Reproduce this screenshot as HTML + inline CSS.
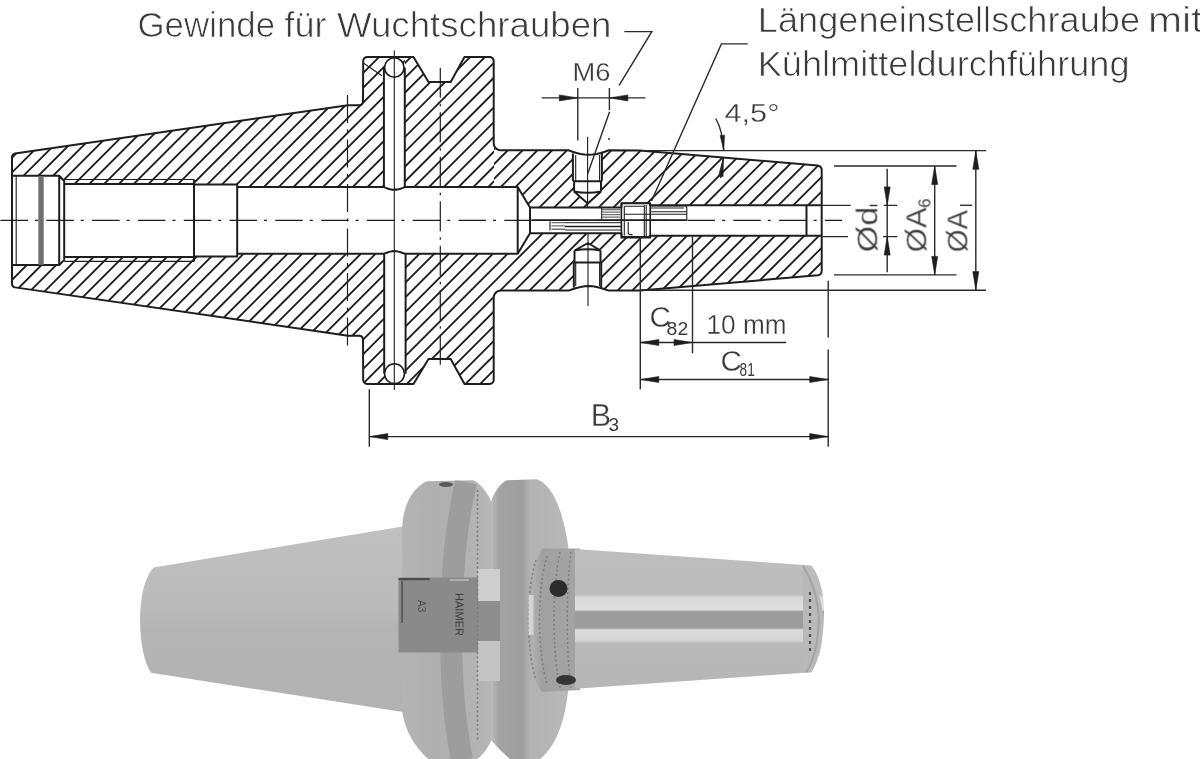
<!DOCTYPE html>
<html><head><meta charset="utf-8"><style>
html,body{margin:0;padding:0;background:#fff;width:1200px;height:759px;overflow:hidden}
svg{display:block}
text{will-change:transform}
</style></head><body>
<svg width="1200" height="759" viewBox="0 0 1200 759">
<defs>
<clipPath id="body"><path d="M12,220.45 L12,157 L12,157 L12.22,155.77 L12.86,154.7 L13.83,153.92 L15.01,153.53 L348,105.2 L359.5,105.2 L359.5,105.2 L361.25,104.73 L362.53,103.45 L363,101.7 L363.2,61 L363.2,61 L363.5,59.47 L364.37,58.17 L365.67,57.3 L367.2,57 L413.5,56.9 L428.5,82 L450.7,82 L464.5,56.9 L489.7,56.9 L489.7,57 L491.23,57.3 L492.53,58.17 L493.4,59.47 L493.7,61 L493.7,143.3 L493.7,143.3 L494.04,145.46 L495.04,147.41 L496.59,148.96 L498.54,149.96 L500.7,150.3 L568.5,150.3 L572.53,151.69 L576.56,152.95 L580.59,153.94 L584.62,154.58 L588.65,154.8 L592.68,154.58 L596.71,153.94 L600.74,152.95 L604.77,151.69 L608.8,150.3 L640,150.4 L817.5,165.6 L817.5,165.6 L819.11,165.92 L820.47,166.83 L821.38,168.19 L821.7,169.8 L821.7,220.45 L821.7,220.45 L821.7,271.1 L821.38,272.71 L820.47,274.07 L819.11,274.98 L817.5,275.3 L817.5,275.3 L640,290.5 L608.8,290.6 L604.77,289.21 L600.74,287.95 L596.71,286.96 L592.68,286.32 L588.65,286.1 L584.62,286.32 L580.59,286.96 L576.56,287.95 L572.53,289.21 L568.5,290.6 L500.7,290.6 L498.54,290.94 L496.59,291.94 L495.04,293.49 L494.04,295.44 L493.7,297.6 L493.7,297.6 L493.7,379.9 L493.4,381.43 L492.53,382.73 L491.23,383.6 L489.7,383.9 L489.7,384 L464.5,384 L450.7,358.9 L428.5,358.9 L413.5,384 L367.2,383.9 L365.67,383.6 L364.37,382.73 L363.5,381.43 L363.2,379.9 L363.2,379.9 L363,339.2 L362.53,337.45 L361.25,336.17 L359.5,335.7 L359.5,335.7 L348,335.7 L15.01,287.37 L13.83,286.98 L12.86,286.2 L12.22,285.13 L12,283.9 L12,283.9 L12,220.45 Z"/></clipPath>
</defs>
<clipPath id="cUp"><path clip-rule="evenodd" d="M0,0 H1200 V220.45 H0 Z M404.8,40 H494 V187 H404.8 Z"/></clipPath>
<clipPath id="cFl"><rect x="404.8" y="40" width="89.2" height="147"/></clipPath>
<clipPath id="cLo"><rect x="0" y="220.45" width="1200" height="200"/></clipPath>
<g clip-path="url(#body)" stroke="#1e1e1e" stroke-width="1.85" fill="none"><g clip-path="url(#cUp)"><path d="M-18.3,40 L-203.3,225 M-3.5,40 L-188.5,225 M11.3,40 L-173.7,225 M26.1,40 L-158.9,225 M40.9,40 L-144.1,225 M55.7,40 L-129.3,225 M70.5,40 L-114.5,225 M85.3,40 L-99.7,225 M100.1,40 L-84.9,225 M114.9,40 L-70.1,225 M129.7,40 L-55.3,225 M144.5,40 L-40.5,225 M159.3,40 L-25.7,225 M174.1,40 L-10.9,225 M188.9,40 L3.9,225 M203.7,40 L18.7,225 M218.5,40 L33.5,225 M233.3,40 L48.3,225 M248.1,40 L63.1,225 M262.9,40 L77.9,225 M277.7,40 L92.7,225 M292.5,40 L107.5,225 M307.3,40 L122.3,225 M322.1,40 L137.1,225 M336.9,40 L151.9,225 M351.7,40 L166.7,225 M366.5,40 L181.5,225 M381.3,40 L196.3,225 M396.1,40 L211.1,225 M410.9,40 L225.9,225 M425.7,40 L240.7,225 M440.5,40 L255.5,225 M455.3,40 L270.3,225 M470.1,40 L285.1,225 M484.9,40 L299.9,225 M499.7,40 L314.7,225 M514.5,40 L329.5,225 M529.3,40 L344.3,225 M544.1,40 L359.1,225 M558.9,40 L373.9,225 M573.7,40 L388.7,225 M588.5,40 L403.5,225 M603.3,40 L418.3,225 M618.1,40 L433.1,225 M632.9,40 L447.9,225 M647.7,40 L462.7,225 M662.5,40 L477.5,225 M677.3,40 L492.3,225 M692.1,40 L507.1,225 M706.9,40 L521.9,225 M721.7,40 L536.7,225 M736.5,40 L551.5,225 M751.3,40 L566.3,225 M766.1,40 L581.1,225 M780.9,40 L595.9,225 M795.7,40 L610.7,225 M810.5,40 L625.5,225 M825.3,40 L640.3,225 M840.1,40 L655.1,225 M854.9,40 L669.9,225 M869.7,40 L684.7,225 M884.5,40 L699.5,225 M899.3,40 L714.3,225 M914.1,40 L729.1,225 M928.9,40 L743.9,225 M943.7,40 L758.7,225 M958.5,40 L773.5,225 M973.3,40 L788.3,225 M988.1,40 L803.1,225 M1002.9,40 L817.9,225 M1017.7,40 L832.7,225 M1032.5,40 L847.5,225 M1047.3,40 L862.3,225 M1062.1,40 L877.1,225 M1076.9,40 L891.9,225 M1091.7,40 L906.7,225 M1106.5,40 L921.5,225 M1121.3,40 L936.3,225 M1136.1,40 L951.1,225 M1150.9,40 L965.9,225 M1165.7,40 L980.7,225 M1180.5,40 L995.5,225 M1195.3,40 L1010.3,225 M1210.1,40 L1025.1,225"/></g><g clip-path="url(#cFl)"><path d="M-16,40 L-176,200 M-1.2,40 L-161.2,200 M13.6,40 L-146.4,200 M28.4,40 L-131.6,200 M43.2,40 L-116.8,200 M58,40 L-102,200 M72.8,40 L-87.2,200 M87.6,40 L-72.4,200 M102.4,40 L-57.6,200 M117.2,40 L-42.8,200 M132,40 L-28,200 M146.8,40 L-13.2,200 M161.6,40 L1.6,200 M176.4,40 L16.4,200 M191.2,40 L31.2,200 M206,40 L46,200 M220.8,40 L60.8,200 M235.6,40 L75.6,200 M250.4,40 L90.4,200 M265.2,40 L105.2,200 M280,40 L120,200 M294.8,40 L134.8,200 M309.6,40 L149.6,200 M324.4,40 L164.4,200 M339.2,40 L179.2,200 M354,40 L194,200 M368.8,40 L208.8,200 M383.6,40 L223.6,200 M398.4,40 L238.4,200 M413.2,40 L253.2,200 M428,40 L268,200 M442.8,40 L282.8,200 M457.6,40 L297.6,200 M472.4,40 L312.4,200 M487.2,40 L327.2,200 M502,40 L342,200 M516.8,40 L356.8,200 M531.6,40 L371.6,200 M546.4,40 L386.4,200 M561.2,40 L401.2,200 M576,40 L416,200 M590.8,40 L430.8,200 M605.6,40 L445.6,200 M620.4,40 L460.4,200 M635.2,40 L475.2,200 M650,40 L490,200 M664.8,40 L504.8,200 M679.6,40 L519.6,200 M694.4,40 L534.4,200 M709.2,40 L549.2,200 M724,40 L564,200 M738.8,40 L578.8,200 M753.6,40 L593.6,200 M768.4,40 L608.4,200 M783.2,40 L623.2,200 M798,40 L638,200 M812.8,40 L652.8,200 M827.6,40 L667.6,200 M842.4,40 L682.4,200 M857.2,40 L697.2,200 M872,40 L712,200 M886.8,40 L726.8,200 M901.6,40 L741.6,200 M916.4,40 L756.4,200 M931.2,40 L771.2,200 M946,40 L786,200 M960.8,40 L800.8,200 M975.6,40 L815.6,200 M990.4,40 L830.4,200 M1005.2,40 L845.2,200 M1020,40 L860,200 M1034.8,40 L874.8,200 M1049.6,40 L889.6,200 M1064.4,40 L904.4,200 M1079.2,40 L919.2,200 M1094,40 L934,200 M1108.8,40 L948.8,200 M1123.6,40 L963.6,200 M1138.4,40 L978.4,200 M1153.2,40 L993.2,200 M1168,40 L1008,200 M1182.8,40 L1022.8,200"/></g><g clip-path="url(#cLo)"><path d="M-25.76,215 L-210.76,400 M-11.09,215 L-196.09,400 M3.58,215 L-181.42,400 M18.25,215 L-166.75,400 M32.92,215 L-152.08,400 M47.59,215 L-137.41,400 M62.26,215 L-122.74,400 M76.93,215 L-108.07,400 M91.6,215 L-93.4,400 M106.27,215 L-78.73,400 M120.94,215 L-64.06,400 M135.61,215 L-49.39,400 M150.28,215 L-34.72,400 M164.95,215 L-20.05,400 M179.62,215 L-5.38,400 M194.29,215 L9.29,400 M208.96,215 L23.96,400 M223.63,215 L38.63,400 M238.3,215 L53.3,400 M252.97,215 L67.97,400 M267.64,215 L82.64,400 M282.31,215 L97.31,400 M296.98,215 L111.98,400 M311.65,215 L126.65,400 M326.32,215 L141.32,400 M340.99,215 L155.99,400 M355.66,215 L170.66,400 M370.33,215 L185.33,400 M385,215 L200,400 M399.67,215 L214.67,400 M414.34,215 L229.34,400 M429.01,215 L244.01,400 M443.68,215 L258.68,400 M458.35,215 L273.35,400 M473.02,215 L288.02,400 M487.69,215 L302.69,400 M502.36,215 L317.36,400 M517.03,215 L332.03,400 M531.7,215 L346.7,400 M546.37,215 L361.37,400 M561.04,215 L376.04,400 M575.71,215 L390.71,400 M590.38,215 L405.38,400 M605.05,215 L420.05,400 M619.72,215 L434.72,400 M634.39,215 L449.39,400 M649.06,215 L464.06,400 M663.73,215 L478.73,400 M678.4,215 L493.4,400 M693.07,215 L508.07,400 M707.74,215 L522.74,400 M722.41,215 L537.41,400 M737.08,215 L552.08,400 M751.75,215 L566.75,400 M766.42,215 L581.42,400 M781.09,215 L596.09,400 M795.76,215 L610.76,400 M810.43,215 L625.43,400 M825.1,215 L640.1,400 M839.77,215 L654.77,400 M854.44,215 L669.44,400 M869.11,215 L684.11,400 M883.78,215 L698.78,400 M898.45,215 L713.45,400 M913.12,215 L728.12,400 M927.79,215 L742.79,400 M942.46,215 L757.46,400 M957.13,215 L772.13,400 M971.8,215 L786.8,400 M986.47,215 L801.47,400 M1001.14,215 L816.14,400 M1015.81,215 L830.81,400 M1030.48,215 L845.48,400 M1045.15,215 L860.15,400 M1059.82,215 L874.82,400 M1074.49,215 L889.49,400 M1089.16,215 L904.16,400 M1103.83,215 L918.83,400 M1118.5,215 L933.5,400 M1133.17,215 L948.17,400 M1147.84,215 L962.84,400 M1162.51,215 L977.51,400 M1177.18,215 L992.18,400 M1191.85,215 L1006.85,400 M1206.52,215 L1021.52,400"/></g></g>
<path d="M12,175.8 L59.2,175.8 L64.2,181 L64.2,184 L194,184 L194,184.5 L237.2,184.5 L237.2,187.1 L383.9,187.1 L385.99,187.93 L388.08,188.69 L390.17,189.28 L392.26,189.67 L394.35,189.8 L396.44,189.67 L398.53,189.28 L400.62,188.69 L402.71,187.93 L404.8,187.1 L517.7,187.1 L530,207.6 L621.4,207.6 L621.4,203.3 L650.2,203.3 L650.2,205.2 L822,205.2 L822,235.7 L650.2,235.7 L650.2,237.6 L621.4,237.6 L621.4,233.3 L530,233.3 L517.7,253.8 L404.8,253.8 L402.71,252.97 L400.62,252.21 L398.53,251.62 L396.44,251.23 L394.35,251.1 L392.26,251.23 L390.17,251.62 L388.08,252.21 L385.99,252.97 L383.9,253.8 L237.2,253.8 L237.2,256.4 L194,256.4 L194,256.9 L64.2,256.9 L64.2,259.9 L59.2,265.1 L12,265.1 Z" fill="#fff"/>
<rect x="383.9" y="67.5" width="20.9" height="121" fill="#fff"/>
<rect x="384.2" y="252" width="21.2" height="121.7" fill="#fff"/>
<path d="M572.9,150 L601.9,150 L601.9,181.3 L601,181.3 L601,191.5 L587.7,203.5 L574.1,191.5 L574.1,181.3 L572.9,181.3 Z" fill="#fff"/>
<path d="M573.8,291 L601.2,291 L601.2,262.5 L600.5,262.5 L600.5,250.5 L588,243 L574.5,250.5 L574.5,262.5 L573.8,262.5 Z" fill="#fff"/>
<path d="M12,220.45 L12,157 L12,157 L12.22,155.77 L12.86,154.7 L13.83,153.92 L15.01,153.53 L348,105.2 L359.5,105.2 L359.5,105.2 L361.25,104.73 L362.53,103.45 L363,101.7 L363.2,61 L363.2,61 L363.5,59.47 L364.37,58.17 L365.67,57.3 L367.2,57 L413.5,56.9 L428.5,82 L450.7,82 L464.5,56.9 L489.7,56.9 L489.7,57 L491.23,57.3 L492.53,58.17 L493.4,59.47 L493.7,61 L493.7,143.3 L493.7,143.3 L494.04,145.46 L495.04,147.41 L496.59,148.96 L498.54,149.96 L500.7,150.3 L568.5,150.3 L572.53,151.69 L576.56,152.95 L580.59,153.94 L584.62,154.58 L588.65,154.8 L592.68,154.58 L596.71,153.94 L600.74,152.95 L604.77,151.69 L608.8,150.3 L640,150.4 L817.5,165.6 L817.5,165.6 L819.11,165.92 L820.47,166.83 L821.38,168.19 L821.7,169.8 L821.7,220.45 L821.7,220.45 L821.7,271.1 L821.38,272.71 L820.47,274.07 L819.11,274.98 L817.5,275.3 L817.5,275.3 L640,290.5 L608.8,290.6 L604.77,289.21 L600.74,287.95 L596.71,286.96 L592.68,286.32 L588.65,286.1 L584.62,286.32 L580.59,286.96 L576.56,287.95 L572.53,289.21 L568.5,290.6 L500.7,290.6 L498.54,290.94 L496.59,291.94 L495.04,293.49 L494.04,295.44 L493.7,297.6 L493.7,297.6 L493.7,379.9 L493.4,381.43 L492.53,382.73 L491.23,383.6 L489.7,383.9 L489.7,384 L464.5,384 L450.7,358.9 L428.5,358.9 L413.5,384 L367.2,383.9 L365.67,383.6 L364.37,382.73 L363.5,381.43 L363.2,379.9 L363.2,379.9 L363,339.2 L362.53,337.45 L361.25,336.17 L359.5,335.7 L359.5,335.7 L348,335.7 L15.01,287.37 L13.83,286.98 L12.86,286.2 L12.22,285.13 L12,283.9 L12,283.9 L12,220.45 Z M12,175.8 L59.2,175.8 L64.2,181 L64.2,184 L194,184 L194,184.5 L237.2,184.5 L237.2,187.1 L383.9,187.1 L385.99,187.93 L388.08,188.69 L390.17,189.28 L392.26,189.67 L394.35,189.8 L396.44,189.67 L398.53,189.28 L400.62,188.69 L402.71,187.93 L404.8,187.1 L517.7,187.1 L530,207.6 L621.4,207.6 L621.4,203.3 L650.2,203.3 L650.2,205.2 L822,205.2 M12,265.1 L59.2,265.1 L64.2,259.9 L64.2,256.9 L194,256.9 L194,256.4 L237.2,256.4 L237.2,253.8 L383.9,253.8 L385.99,252.97 L388.08,252.21 L390.17,251.62 L392.26,251.23 L394.35,251.1 L396.44,251.23 L398.53,251.62 L400.62,252.21 L402.71,252.97 L404.8,253.8 L517.7,253.8 L530,233.3 L621.4,233.3 L621.4,237.6 L650.2,237.6 L650.2,235.7 L822,235.7 M59.2,175.8 L59.2,265.1 M64.2,181 L64.2,259.9 M194,179.5 L194,261.4 M237.2,184.5 L237.2,256.4 M517.7,187.1 L517.7,253.8 M530,207.6 L530,233.3 M383.9,67.5 L383.9,187.5 M404.8,67.5 L404.8,187.5 M384.2,253.5 L384.2,373.7 M405.6,253.5 L405.6,373.7 M572.9,153.5 L572.9,181.3 M601.9,153.5 L601.9,181.3 M573.5,181.3 L601.5,181.3 M574.1,181.3 L574.1,191.5 M601,181.3 L601,191.5 M574.1,191.5 Q587.7,194 601,191.5 M574.1,191.5 L587.7,203.5 M601,191.5 L587.7,203.5 M573.8,287.5 L573.8,262.5 M601.2,287.5 L601.2,262.5 M574,262.5 L601,262.5 M574.5,262.5 L574.5,250.5 M600.5,262.5 L600.5,250.5 M574.5,250.5 Q588,248 600.5,250.5 M574.5,250.5 L588,243 M600.5,250.5 L588,243 M806.5,205.2 L806.5,235.7" fill="none" stroke="#1e1e1e" stroke-width="2.0" stroke-linejoin="round"/>
<circle cx="394.3" cy="67.5" r="9.7" fill="#fff" stroke="#1e1e1e" stroke-width="1.6"/>
<circle cx="394.5" cy="373.7" r="9.9" fill="#fff" stroke="#1e1e1e" stroke-width="1.6"/>
<path d="M64.2,179.5 L194,179.5 M64.2,261.4 L194,261.4 M16.2,176 L16.2,264.9 M575.7,155 L575.7,181.3 M599.6,155 L599.6,181.3 M575.7,286 L575.7,262.5 M599.6,286 L599.6,262.5 M363.7,63.2 L381.9,75.8 M394.3,50.5 L394.3,390 M587.6,136.7 L587.6,208 M588,233 L588,306" fill="none" stroke="#1e1e1e" stroke-width="1.1"/>
<rect x="38.3" y="176" width="5.4" height="88.9" fill="#707070"/>
<path d="M550,221.3 L550,230.5 M601.7,208 L601.7,219.5 M624.3,206.3 L624.3,235.5 M644.3,205 L644.3,236 M646.2,205 L646.2,236 M624.3,206.3 L644.3,206.3 M624.3,214.2 L686.8,214.2 M650.2,211.7 L686.8,211.7 M628.2,222 L628.2,232.5 Q628.2,234.6 630.8,234.6 L632.5,234.6 M650.2,205.6 L684.3,205.6 Q686.8,205.6 686.8,208.2 L686.8,220.5" fill="none" stroke="#1e1e1e" stroke-width="1.1"/>
<path d="M621.4,205.5 Q621.4,203.3 623.6,203.3 L648,203.3 Q650.2,203.3 650.2,205.5 L650.2,234.5 Q650.2,236.9 648,236.9 L623.6,236.9 Q621.4,236.9 621.4,234.5 Z" fill="none" stroke="#1e1e1e" stroke-width="1.6"/>
<path d="M531.7,220.1 L686.8,220.1 M565,226.5 L621.4,226.5" stroke="#1e1e1e" stroke-width="1.7" fill="none"/>
<path d="M565,222.7 L621.4,222.7 M565,230 L621.4,230" stroke="#1e1e1e" stroke-width="1" fill="none"/>
<path d="M602,209.7 L620.5,209.7 M602,212.2 L620.5,212.2 M602,214.7 L620.5,214.7 M602,217.2 L620.5,217.2 M551.5,222.6 L565,222.6 M551.5,225.9 L565,225.9 M551.5,229.25 L565,229.25 M651,206.6 L684,206.6 M651,208.2 L684,208.2" stroke="#6e6e6e" stroke-width="1.3" fill="none"/>
<path d="M0,220.45 L842,220.45" stroke="#1e1e1e" stroke-width="1.3" stroke-dasharray="27.5 7 3 8.3" stroke-dashoffset="-0.5" fill="none"/>
<path d="M347.5,95.1 L347.5,348" stroke="#1e1e1e" stroke-width="1.2" stroke-dasharray="28 6.5 3 7" fill="none"/>
<path d="M440.3,67.8 L440.3,369" stroke="#1e1e1e" stroke-width="1.2" stroke-dasharray="30 6 2.5 6" fill="none"/>
<path d="M541.6,97.9 L645.4,97.9 M577.8,88 L577.8,140.5 M609.4,88 L609.4,110 M609.6,111.8 L587.6,174 M624.4,31.6 L651.8,31.6 L619.1,85.4 M747.7,43.9 L721.4,43.9 L651.5,201 M715.7,118.5 Q722.5,130 723.6,150 M723.4,157.5 L720.6,178 M640,150.6 L986,150.6 M640,290.3 L986,290.3 M834,166 L956.5,166 M834,274.9 L956.5,274.9 M822,205.4 L850.6,205.4 M883.8,205.4 L897.2,205.4 M822,236.6 L848,236.6 M883,236.6 L897.2,236.6 M975.8,150.8 L975.8,290.1 M934.7,166 L934.7,274.9 M887.2,168.7 L887.2,272.3 M640.3,236.5 L640.3,389.3 M692.5,236.5 L692.5,353.3 M828.2,280.7 L828.2,337.6 M828.2,349.5 L828.2,446.7 M640.3,342.5 L786.2,342.5 M640.3,379.5 L828.2,379.5 M369.3,389.3 L369.3,446.7 M369.3,436.6 L828.2,436.6" fill="none" stroke="#2a2a2a" stroke-width="1.4"/>
<path d="M577.8,97.9 L559.3,100.9 L559.3,94.9 Z M609.4,97.9 L627.9,94.9 L627.9,100.9 Z M723.8,150.3 L720.11,135.59 L724.49,135.16 Z M723.4,157.5 L723.11,176.62 L718.56,176 Z M975.8,150.8 L978.8,169.3 L972.8,169.3 Z M975.8,290.1 L972.8,271.6 L978.8,271.6 Z M934.7,166 L937.7,184.5 L931.7,184.5 Z M934.7,274.9 L931.7,256.4 L937.7,256.4 Z M887.2,205.4 L884.2,186.9 L890.2,186.9 Z M887.2,236.6 L890.2,255.1 L884.2,255.1 Z M640.3,342.5 L658.8,339.5 L658.8,345.5 Z M692.5,342.5 L674,345.5 L674,339.5 Z M640.3,379.5 L658.8,376.5 L658.8,382.5 Z M828.2,379.5 L809.7,382.5 L809.7,376.5 Z M369.3,436.6 L387.8,433.6 L387.8,439.6 Z M828.2,436.6 L809.7,439.6 L809.7,433.6 Z" fill="#1e1e1e" stroke="#1e1e1e" stroke-width="0.6" stroke-linejoin="round"/>
<circle cx="609" cy="139" r="1" fill="#333"/>
<text x="137.5" y="37.2" font-family="Liberation Sans, sans-serif" font-size="35.5" fill="#3a3a3a" stroke="#fff" stroke-width="0.7" textLength="137.53" lengthAdjust="spacingAndGlyphs" >Gewinde</text>
<text x="284.5" y="37.2" font-family="Liberation Sans, sans-serif" font-size="35.5" fill="#3a3a3a" stroke="#fff" stroke-width="0.7" textLength="41.95" lengthAdjust="spacingAndGlyphs" >für</text>
<text x="337.0" y="37.2" font-family="Liberation Sans, sans-serif" font-size="35.5" fill="#3a3a3a" stroke="#fff" stroke-width="0.7" textLength="274.5" lengthAdjust="spacingAndGlyphs" >Wuchtschrauben</text>
<text x="757.75" y="32" font-family="Liberation Sans, sans-serif" font-size="34.5" fill="#3a3a3a" stroke="#fff" stroke-width="0.7" textLength="382.29" lengthAdjust="spacingAndGlyphs" >Längeneinstellschraube</text>
<text x="1148.0" y="32" font-family="Liberation Sans, sans-serif" font-size="34.5" fill="#3a3a3a" stroke="#fff" stroke-width="0.7" textLength="54.5" lengthAdjust="spacingAndGlyphs" >mit</text>
<text x="757.75" y="75.5" font-family="Liberation Sans, sans-serif" font-size="34.5" fill="#3a3a3a" stroke="#fff" stroke-width="0.7" textLength="371.81" lengthAdjust="spacingAndGlyphs" >Kühlmitteldurchführung</text>
<text x="572.5" y="81" font-family="Liberation Sans, sans-serif" font-size="26" fill="#3a3a3a" stroke="#fff" stroke-width="0.3" textLength="38" lengthAdjust="spacingAndGlyphs" >M6</text>
<text x="724.5" y="122.4" font-family="Liberation Sans, sans-serif" font-size="26.5" fill="#3a3a3a" stroke="#fff" stroke-width="0.3" textLength="55" lengthAdjust="spacingAndGlyphs" >4,5°</text>
<text x="649.5" y="327" font-family="Liberation Sans, sans-serif" font-size="29.5" fill="#3a3a3a" stroke="#fff" stroke-width="0.3" >C</text>
<text x="666.6" y="335.2" font-family="Liberation Sans, sans-serif" font-size="19" fill="#3a3a3a" textLength="21.6" lengthAdjust="spacingAndGlyphs" >82</text>
<text x="706.5" y="334" font-family="Liberation Sans, sans-serif" font-size="28" fill="#3a3a3a" stroke="#fff" stroke-width="0.3" textLength="80" lengthAdjust="spacingAndGlyphs" >10 mm</text>
<text x="720.5" y="370.8" font-family="Liberation Sans, sans-serif" font-size="29.5" fill="#3a3a3a" stroke="#fff" stroke-width="0.3" >C</text>
<text x="739.6" y="375.6" font-family="Liberation Sans, sans-serif" font-size="19" fill="#3a3a3a" textLength="15.2" lengthAdjust="spacingAndGlyphs" >81</text>
<text x="590.8" y="425.8" font-family="Liberation Sans, sans-serif" font-size="30.5" fill="#3a3a3a" stroke="#fff" stroke-width="0.3" >B</text>
<text x="608.5" y="431.2" font-family="Liberation Sans, sans-serif" font-size="19" fill="#3a3a3a" >3</text>
<g transform="translate(877.4,252.3) rotate(-90)"><text x="0" y="0" font-family="Liberation Sans, sans-serif" font-size="30" fill="#3a3a3a" stroke="#fff" stroke-width="0.3" textLength="45.5" lengthAdjust="spacingAndGlyphs" >Ød</text><path d="M46.8,-7.8 L46.8,0" stroke="#3a3a3a" stroke-width="1.5"/></g>
<g transform="translate(926.4,252.3) rotate(-90)"><text x="0" y="0" font-family="Liberation Sans, sans-serif" font-size="30" fill="#3a3a3a" stroke="#fff" stroke-width="0.3" textLength="45" lengthAdjust="spacingAndGlyphs" >ØA</text><text x="44.5" y="4" font-family="Liberation Sans, sans-serif" font-size="16.7" fill="#3a3a3a" >6</text></g>
<g transform="translate(967.5,252.3) rotate(-90)"><text x="0" y="0" font-family="Liberation Sans, sans-serif" font-size="30" fill="#3a3a3a" stroke="#fff" stroke-width="0.3" textLength="42.5" lengthAdjust="spacingAndGlyphs" >ØA</text><path d="M47,-7.5 L47,4.7" stroke="#3a3a3a" stroke-width="1.5"/></g>
<g><defs><linearGradient id="gCone" gradientUnits="userSpaceOnUse" x1="0" y1="527" x2="0" y2="712"><stop offset="0" stop-color="#c0c0c0"/><stop offset="0.45" stop-color="#bababa"/><stop offset="0.55" stop-color="#b4b4b4"/><stop offset="1" stop-color="#b2b2b2"/></linearGradient><linearGradient id="gShank" gradientUnits="userSpaceOnUse" x1="0" y1="549" x2="0" y2="690"><stop offset="0" stop-color="#bdbdbd"/><stop offset="0.32" stop-color="#bcbcbc"/><stop offset="0.345" stop-color="#d8d8d8"/><stop offset="0.43" stop-color="#e0e0e0"/><stop offset="0.445" stop-color="#9c9c9c"/><stop offset="0.56" stop-color="#9c9c9c"/><stop offset="0.575" stop-color="#dcdcdc"/><stop offset="0.65" stop-color="#d4d4d4"/><stop offset="0.67" stop-color="#b9b9b9"/><stop offset="1" stop-color="#b6b6b6"/></linearGradient><linearGradient id="gF1" gradientUnits="userSpaceOnUse" x1="402" y1="0" x2="491" y2="0"><stop offset="0" stop-color="#b4b4b4"/><stop offset="0.4" stop-color="#afafaf"/><stop offset="0.75" stop-color="#b2b2b2"/><stop offset="1" stop-color="#b6b6b6"/></linearGradient><clipPath id="cF1"><path d="M402.2,527 C403,508 411,488 427,481.3 L473.3,480.3 C480,483 487,492 491.5,502 L491.5,740 C488,748 482,756 477,759 L428.3,759 C415,748 405,730 402.5,713.3 Z"/></clipPath><linearGradient id="gF2" gradientUnits="userSpaceOnUse" x1="492" y1="0" x2="568" y2="0"><stop offset="0" stop-color="#b8b8b8"/><stop offset="0.1" stop-color="#a2a2a2"/><stop offset="0.4" stop-color="#9e9e9e"/><stop offset="0.5" stop-color="#b2b2b2"/><stop offset="1" stop-color="#b8b8b8"/></linearGradient><linearGradient id="gRing" gradientUnits="userSpaceOnUse" x1="521" y1="0" x2="580" y2="0"><stop offset="0" stop-color="#a2a2a2"/><stop offset="0.2" stop-color="#b0b0b0"/><stop offset="0.35" stop-color="#a0a0a0"/><stop offset="1" stop-color="#a4a4a4"/></linearGradient></defs><path d="M153.7,567.4 L403,526.5 L403,712 L151,672.8 C138,655 134,588 153.7,567.4 Z" fill="url(#gCone)"/><path d="M402.2,527 C403,508 411,488 427,481.3 L473.3,480.3 C480,483 487,492 491.5,502 L491.5,740 C488,748 482,756 477,759 L428.3,759 C415,748 405,730 402.5,713.3 Z" fill="url(#gF1)"/><path clip-path="url(#cF1)" d="M466,482 C448,560 446,680 462,760" fill="none" stroke="#9d9d9d" stroke-width="22"/><path d="M491.2,502 C493,494 500,483 506.7,480.3 L536.7,479.2 C552,484 563,510 568.3,546.7 L568.3,688.3 C566,715 558,745 540,759 L510,759 C502,752 495,745 491.2,740 Z" fill="url(#gF2)"/><rect x="398.5" y="577.5" width="80" height="75" fill="#8a8a8a"/><rect x="398.6" y="578" width="31" height="2.2" fill="#4a4a4a"/><rect x="450" y="579" width="19" height="2" fill="#b0b0b0"/><rect x="401.2" y="581" width="1.8" height="42" fill="#5a5a5a"/><text transform="translate(455.5,593) rotate(90)" font-family="Liberation Sans, sans-serif" font-size="11" fill="#3a3a3a" textLength="43" lengthAdjust="spacingAndGlyphs">HAIMER</text><text transform="translate(418,600) rotate(90)" font-family="Liberation Sans, sans-serif" font-size="10" fill="#4a4a4a">A3</text><rect x="478" y="569" width="22" height="32" fill="#cecece"/><rect x="478" y="601" width="22" height="40" fill="#8e8e8e"/><rect x="478" y="641" width="22" height="40" fill="#c4c4c4"/><path d="M477.5,490 L477.5,740" stroke="#7a7a7a" stroke-width="1.5" stroke-dasharray="2 2.5"/><path d="M542,548.5 L580,548.5 L580,690 L542,692 C526,672 519,590 542,548.5 Z" fill="url(#gRing)"/><path d="M536,560 C526,590 526,650 536,680 M547,556 C537,590 537,650 547,684 M560,552 C552,590 552,650 560,688 M571,552 C566,590 566,650 571,688" fill="none" stroke="#7c7c7c" stroke-width="1.5" stroke-dasharray="2 2.5"/><path d="M531,595 L531,635" stroke="#d4d4d4" stroke-width="5"/><path d="M575,549 L811.3,565.6 C820,575 826,600 823.5,620 C823,645 818,662 811.3,672.2 L575,688.8 Z" fill="url(#gShank)"/><path d="M803,566 C815,578 822,600 823.5,620 C823,645 818,662 811.3,672.2 L803,672.5 Z" fill="#b9b9b9"/><path d="M803,566 C812,580 818,600 819,620 C818,645 813,662 806,672.5" fill="none" stroke="#a4a4a4" stroke-width="2"/><path d="M810,592 L810,652" stroke="#505050" stroke-width="2.2" stroke-dasharray="3 4"/><ellipse cx="558.5" cy="588.5" rx="9" ry="8.5" fill="#2c2c2c"/><ellipse cx="566" cy="680" rx="10" ry="5" fill="#353535"/><ellipse cx="446" cy="484.5" rx="7" ry="2.5" fill="#5a5a5a"/></g>
</svg>
</body></html>
